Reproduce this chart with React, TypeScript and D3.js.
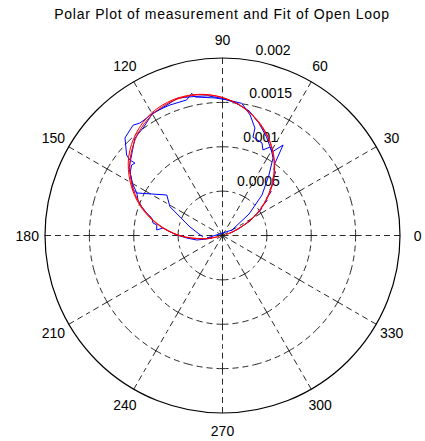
import React, { useEffect, useRef } from 'react';
import * as d3 from 'd3';

const title = 'Polar Plot of measurement and Fit of Open Loop';

// radial grid (data units) and labels
const ringTicks = [0.0005, 0.001, 0.0015, 0.002];
const ringLabels = ['0.0005', '0.001', '0.0015', '0.002'];

// angular grid (degrees)
const angleTicks = [0, 30, 60, 90, 120, 150, 180, 210, 240, 270, 300, 330];
const angleLabels = ['0', '30', '60', '90', '120', '150', '180', '210', '240', '270', '300', '330'];

// measurement (blue), two passes
const measTheta = [
  18, 22, 25, 28, 31, 34, 36, 38, 40, 42, 44, 46, 48, 50, 52, 54, 56.2, 59.3, 61.8, 64.7,
  66.9, 72.8, 73.2, 77.1, 81.7, 87.7, 93.1, 101.2, 102.2, 104.8, 111.9, 115, 119.6, 122.8, 126.3,
  129, 133.6, 135, 140, 140.8, 140.4, 142.2, 145.9, 148.6, 153, 153.6, 157.2, 160.4, 163.5, 166.1,
  169.8, 170.9, 175.2, 172.8, 175.9, 179.4, 184, 189.9, 192.5, 193.4,
  189.2, 30.1, 39, 45.7, 52.5, 56.9, 60, 66, 72, 78, 84, 90, 96, 102, 108, 114, 120, 126, 132,
  138, 144, 150, 153.6, 144, 151.3, 165.3, 184.4
];
const measRho = [
  0.00009, 0.000192, 0.000248, 0.000361, 0.000411, 0.00053, 0.000541, 0.000637, 0.000642, 0.000738,
  0.000744, 0.000834, 0.000845, 0.00093, 0.000941, 0.001003, 0.001227, 0.001093, 0.001131, 0.001066,
  0.001134, 0.001161, 0.001265, 0.001393, 0.001505, 0.001528, 0.001552, 0.001591, 0.001639, 0.00158,
  0.001585, 0.001585, 0.001586, 0.001575, 0.001572, 0.0016, 0.001564, 0.001554, 0.00141, 0.001345,
  0.00128, 0.001296, 0.001257, 0.001199, 0.001131, 0.001078, 0.001033, 0.000967, 0.000891, 0.000821,
  0.000795, 0.00075, 0.000744, 0.000676, 0.000593, 0.000516, 0.000405, 0.000295, 0.000183, 0.000122,
  0.000177, 0.000124, 0.000384, 0.000638, 0.00086, 0.001042, 0.001104, 0.001217, 0.00133, 0.001437,
  0.001499, 0.001544, 0.001583, 0.0016, 0.001628, 0.001594, 0.001583, 0.00151, 0.001476, 0.001375,
  0.001301, 0.001172, 0.001078, 0.000776, 0.000675, 0.000379, 0.000221
];

// fit (red), drawn twice
const fitTheta = [17, 20, 30, 40, 50, 60, 70, 80, 90, 100, 110, 120, 130, 140, 150, 160, 170, 180, 190, 196];
const fitRho = [
  0.000044, 0.000127, 0.000401, 0.000664, 0.000908, 0.001125, 0.001308, 0.001453, 0.001554, 0.00161,
  0.001617, 0.001576, 0.001488, 0.001356, 0.001183, 0.000976, 0.000739, 0.000482, 0.00021, 0.000044
];
const fitRho2 = [
  0.00004, 0.00012, 0.00039, 0.00065, 0.0009, 0.00112, 0.0013, 0.00145, 0.001555, 0.001615,
  0.001628, 0.001595, 0.00151, 0.00138, 0.0012, 0.00099, 0.00075, 0.00049, 0.00021, 0.00004
];

const W = 425;
const H = 441;
const FONT = '"Liberation Sans", Arial, Helvetica, sans-serif';

export default function App() {
  const svgRef = useRef<SVGSVGElement>(null);

  useEffect(() => {
    const svg = d3.select(svgRef.current);
    svg.selectAll('*').remove();

    const cx = 222.5;
    const cy = 235.5;
    const R = 177.5;
    const rScale = d3.scaleLinear().domain([0, 0.002]).range([0, R]);
    const rad = (deg: number) => (deg * Math.PI) / 180;
    const pt = (deg: number, r: number) => [r * Math.cos(rad(deg)), -r * Math.sin(rad(deg))];
    const dash = '6,4';
    const gridColor = '#111';

    svg.append('rect').attr('width', W).attr('height', H).attr('fill', '#fff');

    svg.append('text')
      .attr('x', 222)
      .attr('y', 19)
      .attr('text-anchor', 'middle')
      .style('font-family', FONT)
      .style('font-size', '14px')
      .style('letter-spacing', '0.75px')
      .text(title);

    const g = svg.append('g').attr('transform', `translate(${cx},${cy})`);

    // spokes, drawn as half segments from each ring so the dashes cross at rings
    const radii = [0, ...ringTicks.map(rScale)];
    angleTicks.forEach(a => {
      for (let i = 0; i < radii.length - 1; i++) {
        const r0 = radii[i];
        const r1 = radii[i + 1];
        const rm = (r0 + r1) / 2;
        [[r0, rm], [r1, rm]].forEach(([s, e]) => {
          const [x1, y1] = pt(a, s);
          const [x2, y2] = pt(a, e);
          g.append('line')
            .attr('x1', x1).attr('y1', y1).attr('x2', x2).attr('y2', y2)
            .attr('stroke', gridColor)
            .attr('stroke-width', 0.9)
            .attr('stroke-dasharray', dash);
        });
      }
    });

    // inner dashed rings
    ringTicks.slice(0, 3).forEach(t => {
      const rr = rScale(t);
      angleTicks.forEach(a => {
        [[a, a + 15], [a + 30, a + 15]].forEach(([s, e]) => {
          const p = d3.path();
          const [x0, y0] = pt(s, rr);
          p.moveTo(x0, y0);
          p.arc(0, 0, rr, -rad(s), -rad(e), e > s);
          g.append('path')
            .attr('d', p.toString())
            .attr('fill', 'none')
            .attr('stroke', gridColor)
            .attr('stroke-width', 0.9)
            .attr('stroke-dasharray', dash);
        });
      });
    });

    // outer circle
    g.append('circle')
      .attr('r', R)
      .attr('fill', 'none')
      .attr('stroke', '#000')
      .attr('stroke-width', 1.2);

    // angle labels
    angleTicks.forEach((a, i) => {
      const [x, y] = pt(a, R * 1.1);
      g.append('text')
        .attr('x', x)
        .attr('y', y)
        .attr('text-anchor', 'middle')
        .attr('dominant-baseline', 'central')
        .style('font-family', FONT)
        .style('font-size', '14px')
        .text(angleLabels[i]);
    });

    // radial labels at 82 degrees
    ringTicks.forEach((t, i) => {
      const [x, y] = pt(82, rScale(t) + rScale(0.000025));
      g.append('text')
        .attr('x', x + 8)
        .attr('y', y - 3)
        .style('font-family', FONT)
        .style('font-size', '14px')
        .text(ringLabels[i]);
    });

    const line = d3.lineRadial<[number, number]>()
      .angle(d => rad(90 - d[0]))
      .radius(d => rScale(d[1]));

    const smooth = d3.lineRadial<[number, number]>()
      .angle(d => rad(90 - d[0]))
      .radius(d => rScale(d[1]))
      .curve(d3.curveCatmullRom);

    const meas = measTheta.map((t, i) => [t, measRho[i]] as [number, number]);
    const fit1 = fitTheta.map((t, i) => [t, fitRho[i]] as [number, number]);
    const fit2 = fitTheta.map((t, i) => [t, fitRho2[i]] as [number, number]);

    g.append('path')
      .attr('d', line(meas)!)
      .attr('fill', 'none')
      .attr('stroke', '#0000ff')
      .attr('stroke-width', 1);

    [fit1, fit2].forEach(f => {
      g.append('path')
        .attr('d', smooth(f)!)
        .attr('fill', 'none')
        .attr('stroke', '#ff0000')
        .attr('stroke-width', 1);
    });
  }, []);

  return (
    <svg
      ref={svgRef}
      width={W}
      height={H}
      style={{ position: 'absolute', left: 0, top: 0 }}
    />
  );
}
